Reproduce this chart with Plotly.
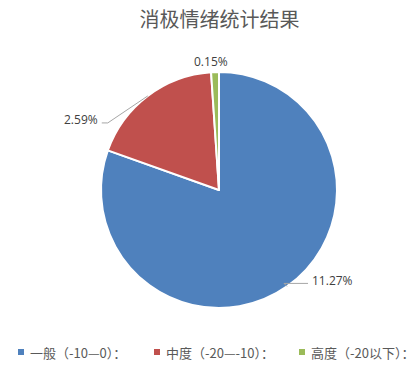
import math
import plotly.graph_objects as go

# ---- data ----
categories = ["一般（-10—0）：", "中度（-20—-10）：", "高度（-20以下）："]
values = [11.27, 2.59, 0.15]
value_labels = ["11.27%", "2.59%", "0.15%"]
colors = ["#4F81BD", "#C0504D", "#9BBB59"]

# ---- layout geometry (pixels) ----
W, H = 418, 369
CX, CY, R = 219, 190, 118
# per-slice label placement: (dx, dy from edge point, anchor, draw leader line)
placements = [
    (23, -3, "left", True),
    (-48, 27, "right", True),
    (-4, -11, "center", False),
]
legend_x = [21, 157, 302]
legend_y = 352

def px(x):
    return x / W

def py(y):
    return 1 - y / H

fig = go.Figure(go.Pie(
    labels=categories,
    values=values,
    sort=False,
    direction="clockwise",
    rotation=0,
    marker=dict(colors=colors, line=dict(color="white", width=2)),
    textinfo="none",
    hoverinfo="label+value",
    domain=dict(x=[px(CX - R), px(CX + R)], y=[py(CY + R), py(CY - R)]),
    showlegend=False,
))

total = sum(values)
cum = 0.0
shapes = []
annotations = []
for v, lab, (dx, dy, anchor, line) in zip(values, value_labels, placements):
    mid = (cum + v / 2) / total * 2 * math.pi
    cum += v
    ex = CX + R * math.sin(mid)
    ey = CY - R * math.cos(mid)
    lx, ly = ex + dx, ey + dy
    if line:
        if anchor == "left":
            elbow = (ex - 3, ly)
            end = (lx - 2, ly)
        else:
            elbow = (lx + 8, ly)
            end = (lx + 2, ly)
        path = "M {} {} L {} {} L {} {}".format(
            px(ex), py(ey), px(elbow[0]), py(elbow[1]), px(end[0]), py(end[1]))
        shapes.append(dict(type="path", xref="paper", yref="paper", path=path,
                           line=dict(color="#A6A6A6", width=1)))
        ty = ly - 3
    else:
        ty = ly
    annotations.append(dict(
        x=px(lx), y=py(ty), xref="paper", yref="paper", text=lab,
        showarrow=False, xanchor=anchor, yanchor="middle",
        font=dict(family="Open Sans, Noto Sans CJK SC", size=12, color="#404040"),
    ))

# manual legend
for cat, col, lxp in zip(categories, colors, legend_x):
    shapes.append(dict(type="rect", xref="paper", yref="paper",
                       x0=px(lxp - 3), x1=px(lxp + 3),
                       y0=py(legend_y + 3), y1=py(legend_y - 3),
                       fillcolor=col, line=dict(width=0)))
    annotations.append(dict(
        x=px(lxp + 7), y=py(legend_y), xref="paper", yref="paper", text=cat,
        showarrow=False, xanchor="left", yanchor="middle",
        font=dict(family="Noto Sans CJK SC", size=13, color="#595959"),
    ))

fig.update_layout(
    width=W, height=H,
    margin=dict(l=0, r=0, t=0, b=0),
    paper_bgcolor="white",
    title=dict(text="消极情绪统计结果", x=0.525, xanchor="center", y=1 - 20 / H,
               yanchor="middle",
               font=dict(family="Noto Sans CJK SC", size=20, color="#595959")),
    showlegend=False,
    shapes=shapes,
    annotations=annotations,
)

fig.write_html("out.html")
